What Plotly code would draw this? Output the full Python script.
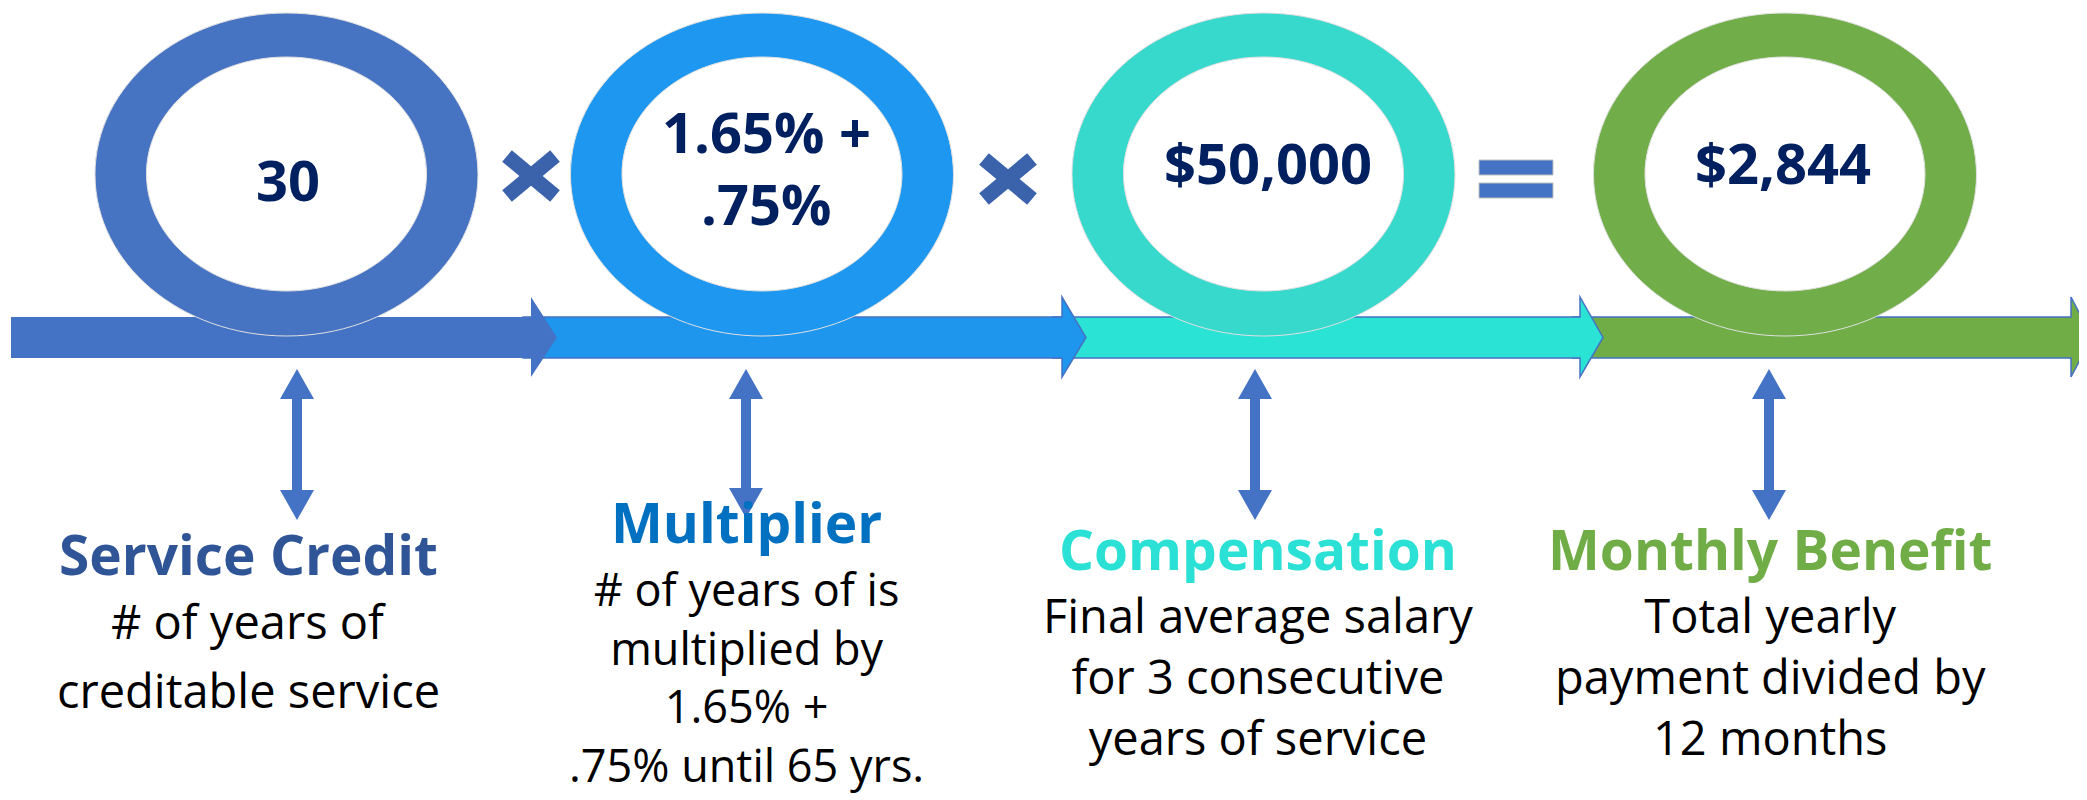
import plotly.graph_objects as go

# ---------------- data ----------------
ring_values = ["30", "1.65% +", "$50,000", "$2,844"]
ring_values_line2 = ["", ".75%", "", ""]
titles = ["Service Credit", "Multiplier", "Compensation", "Monthly Benefit"]
descriptions = [
    ["# of years of", "creditable service"],
    ["# of years of is", "multiplied by", "1.65% +", ".75% until 65 yrs."],
    ["Final average salary", "for 3 consecutive", "years of service"],
    ["Total yearly", "payment divided by", "12 months"],
]
operators = ["×", "×", "="]

# ---------------- styles / layout ----------------
W, H = 2087, 800
ring_colors = ["#4773C3", "#1D97EF", "#37D9CC", "#71AD48"]
band_colors = ["#4472C4", "#1E96EE", "#2BE3D5", "#70AD47"]
title_colors = ["#2F5597", "#0070C0", "#2BE0D4", "#70AD47"]
ring_cx = [278.5, 754, 1255.5, 1777]
ring_cy = 166.5
outer_rx, outer_ry = 191.5, 161.5
inner_rx, inner_ry = 140, 117

band_top, band_bot = 309, 350
head_top, head_bot = 289, 369
arrow_start = [3, 515, 1045, 1565]
arrow_base = [523, 1054, 1572, 2063]
arrow_tip = [549, 1078, 1595, 2084]

varrow_x = [289, 738, 1247, 1761]
varrow_top = 361
varrow_bot = [512, 510, 512, 512]

op_pos = [(523, 168), (1000, 171), (1508, 171)]

num_x = [280, 758, 1260, 1775]
num_baseline = [202, 154, 185, 185]
num2_baseline = 226
title_baseline = [576, 544, 571, 571]
label_x = [240, 738, 1250, 1762]
desc_first_baseline = [639, 605, 633, 633]
desc_sizes = [47, 45, 47, 47]
desc_separate_spacing = [69, None, None, None]  # Service Credit lines are spaced wider

FONT = "Open Sans"
NUM_SIZE = 56
TITLE_SIZE = 55
MID = 0.55  # offset from baseline to annotation middle, in font-size units
LINE_SPACING = 1.3  # plotly's multi-line spacing factor


def ellipse(cx, cy, rx, ry):
    k = 0.5523
    return (f"M{cx+rx},{cy} C{cx+rx},{cy+k*ry} {cx+k*rx},{cy+ry} {cx},{cy+ry} "
            f"C{cx-k*rx},{cy+ry} {cx-rx},{cy+k*ry} {cx-rx},{cy} "
            f"C{cx-rx},{cy-k*ry} {cx-k*rx},{cy-ry} {cx},{cy-ry} "
            f"C{cx+k*rx},{cy-ry} {cx+rx},{cy-k*ry} {cx+rx},{cy} Z")


def poly(pts):
    return "M" + " L".join(f"{x},{y}" for x, y in pts) + " Z"


shapes = []
# horizontal arrows (later ones underneath earlier ones)
for i in reversed(range(4)):
    pts = [(arrow_start[i], band_top), (arrow_base[i], band_top), (arrow_base[i], head_top),
           (arrow_tip[i], (band_top + band_bot) / 2), (arrow_base[i], head_bot),
           (arrow_base[i], band_bot), (arrow_start[i], band_bot)]
    shapes.append(dict(type="path", path=poly(pts), fillcolor=band_colors[i],
                       line=dict(color="#4472C4", width=1.5 if i > 0 else 0),
                       xref="x", yref="y", layer="above"))

# rings
for i in range(4):
    p = ellipse(ring_cx[i], ring_cy, outer_rx, outer_ry) + " " + ellipse(ring_cx[i], ring_cy - 0.5, inner_rx, inner_ry)
    shapes.append(dict(type="path", path=p, fillcolor=ring_colors[i], fillrule="evenodd",
                       line=dict(color="#E0E0E0", width=1), xref="x", yref="y", layer="above"))

# vertical double arrows
for i in range(4):
    x, t, b = varrow_x[i], varrow_top, varrow_bot[i]
    hw, sw, hh = 17, 5, 30
    pts = [(x, t), (x + hw, t + hh), (x + sw, t + hh), (x + sw, b - hh), (x + hw, b - hh), (x, b),
           (x - hw, b - hh), (x - sw, b - hh), (x - sw, t + hh), (x - hw, t + hh)]
    shapes.append(dict(type="path", path=poly(pts), fillcolor="#4472C4",
                       line=dict(width=0), xref="x", yref="y", layer="above"))

# operators
for op, (cx, cy) in zip(operators, op_pos):
    if op == "×":
        for dx, dy in [(24, 20), (24, -20)]:
            shapes.append(dict(type="line", x0=cx - dx, y0=cy - dy, x1=cx + dx, y1=cy + dy,
                               line=dict(color="#3B63AB", width=15), xref="x", yref="y", layer="above"))
    else:
        for y0, y1 in [(152, 167), (175, 190)]:
            shapes.append(dict(type="rect", x0=cx - 37, x1=cx + 37, y0=y0, y1=y1,
                               fillcolor="#4472C4", line=dict(color="#BFBFBF", width=1),
                               xref="x", yref="y", layer="above"))

annotations = []


def add_text(x, baseline, lines, size, color, bold):
    n = len(lines)
    ymid = baseline - MID * size + (n - 1) * LINE_SPACING * size / 2
    annotations.append(dict(x=x, y=ymid, xref="x", yref="y", text="<br>".join(lines),
                            showarrow=False, xanchor="center", yanchor="middle", align="center",
                            font=dict(family=FONT, size=size, color=color,
                                      weight="bold" if bold else "normal")))


# ring numbers
for i in range(4):
    add_text(num_x[i], num_baseline[i], [ring_values[i]], NUM_SIZE, "#002060", True)
    if ring_values_line2[i]:
        add_text(num_x[i], num2_baseline, [ring_values_line2[i]], NUM_SIZE, "#002060", True)

# titles and descriptions
for i in range(4):
    add_text(label_x[i], title_baseline[i], [titles[i]], TITLE_SIZE, title_colors[i], True)
    if desc_separate_spacing[i]:
        for k, line in enumerate(descriptions[i]):
            add_text(label_x[i], desc_first_baseline[i] + k * desc_separate_spacing[i], [line],
                     desc_sizes[i], "#000000", False)
    else:
        add_text(label_x[i], desc_first_baseline[i], descriptions[i], desc_sizes[i], "#000000", False)

fig = go.Figure()
fig.add_trace(go.Scatter(x=[0, W], y=[0, H], mode="markers", marker=dict(opacity=0),
                         hoverinfo="skip", showlegend=False))
fig.update_layout(
    width=W, height=H, autosize=False,
    margin=dict(l=0, r=0, t=0, b=0),
    paper_bgcolor="white", plot_bgcolor="white",
    xaxis=dict(range=[0, W], visible=False, fixedrange=True),
    yaxis=dict(range=[H, 0], visible=False, fixedrange=True),
    shapes=shapes, annotations=annotations, showlegend=False,
)
fig.write_html("out.html")
